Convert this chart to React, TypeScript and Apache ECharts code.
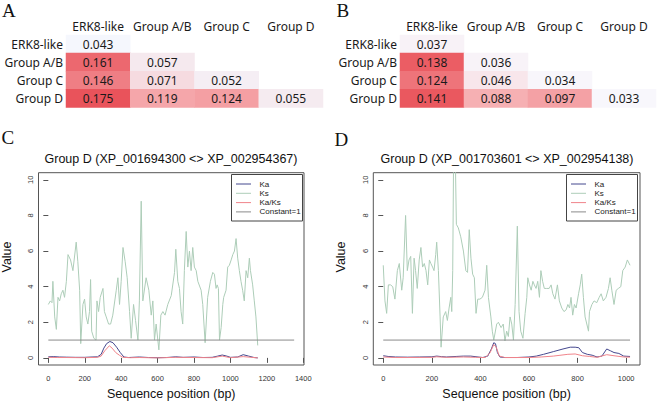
import React, { useEffect, useRef } from "react";
import * as echarts from "echarts";

// ---------- data ----------
const groups = ["ERK8-like", "Group A/B", "Group C", "Group D"];
const tableA = [
  [0.043],
  [0.161, 0.057],
  [0.146, 0.071, 0.052],
  [0.175, 0.119, 0.124, 0.055],
];
const tableB = [
  [0.037],
  [0.138, 0.036],
  [0.124, 0.046, 0.034],
  [0.141, 0.088, 0.097, 0.033],
];

const titleC = "Group D (XP_001694300 <> XP_002954367)";
const titleD = "Group D (XP_001703601 <> XP_002954138)";
const xTicksC = [0, 200, 400, 600, 800, 1000, 1200, 1400];
const xTicksD = [0, 200, 400, 600, 800, 1000];
const yTicks = [0, 2, 4, 6, 8, 10];
const legendNames = ["Ka", "Ks", "Ka/Ks", "Constant=1"];

const ksC = [
  [0, 3.0], [11, 3.2], [20, 3.1], [25, 4.3], [35, 2.3], [44, 1.6], [53, 3.4], [62, 3.2], [71, 3.6],
  [80, 3.8], [89, 3.4], [99, 4.3], [108, 5.8], [122, 5.5], [135, 4.9], [153, 6.5], [162, 5.4],
  [172, 3.8], [178, 0.8], [190, 3.0], [199, 3.3], [208, 2.3], [217, 1.9], [226, 2.6], [232, 4.4],
  [238, 1.5], [250, 1.1], [262, 1.0], [267, 3.2], [276, 2.6], [285, 3.4], [300, 3.9], [308, 2.6],
  [318, 2.3], [331, 1.9], [342, 1.9], [354, 2.4], [373, 3.8], [382, 4.5], [391, 3.0], [400, 4.3],
  [410, 6.2], [422, 5.4], [433, 4.5], [446, 2.6], [455, 1.1], [468, 3.0], [479, 2.1], [492, 1.0],
  [500, 3.2], [510, 8.8], [519, 3.2], [537, 4.5], [552, 3.8], [565, 2.4], [574, 3.2], [583, 1.0],
  [592, 1.9], [607, 0.45], [618, 2.4], [629, 2.6], [641, 2.4], [656, 3.0], [675, 3.5], [693, 4.8],
  [700, 6.1], [711, 4.3], [720, 3.9], [729, 2.6], [738, 1.9], [747, 4.9], [757, 7.1], [766, 5.1],
  [775, 6.0], [784, 4.9], [793, 6.2], [802, 5.1], [812, 4.9], [821, 4.3], [839, 3.8], [848, 3.0],
  [861, 0.85], [875, 3.4], [890, 4.3], [903, 4.8], [912, 4.7], [921, 3.9], [927, 4.1], [934, 3.9],
  [940, 1.0], [949, 1.7], [958, 3.0], [963, 3.4], [976, 3.8], [985, 5.1], [994, 5.2], [1004, 5.5],
  [1013, 5.8], [1022, 6.0], [1031, 6.7], [1040, 5.6], [1049, 4.9], [1058, 4.3], [1067, 3.8],
  [1076, 3.2], [1086, 4.9], [1095, 4.5], [1104, 5.6], [1110, 4.9], [1122, 4.1], [1131, 3.2],
  [1140, 2.3], [1150, 0.7],
];
const kaC = [
  [0, 0.06], [30, 0.07], [60, 0.05], [100, 0.04], [150, 0.03], [200, 0.03], [240, 0.05], [270, 0.06],
  [290, 0.2], [305, 0.55], [320, 0.8], [338, 0.92], [355, 0.85], [375, 0.6], [395, 0.3], [415, 0.05],
  [440, 0.02], [500, 0.05], [550, 0.02], [600, 0.01], [650, 0.02], [700, 0.06], [740, 0.03],
  [800, 0.05], [850, 0.02], [900, 0.03], [930, 0.1], [955, 0.16], [980, 0.1], [1000, 0.03],
  [1040, 0.05], [1070, 0.18], [1100, 0.1], [1130, 0.02], [1150, 0.0],
];
const kaksC = [
  [0, 0.03], [50, 0.02], [100, 0.02], [200, 0.01], [270, 0.03], [290, 0.1], [310, 0.4], [335, 0.68],
  [350, 0.55], [370, 0.3], [390, 0.15], [410, 0.03], [450, 0.01], [500, 0.02], [600, 0.0],
  [700, 0.03], [800, 0.02], [900, 0.01], [955, 0.1], [1000, 0.01], [1070, 0.07], [1150, 0.0],
];
const constC = [[0, 1], [1350, 1]];

const ksD = [
  [0, 5.2], [7, 3.2], [14, 2.5], [21, 4.1], [30, 4.1], [39, 4.0], [48, 3.3], [58, 4.9], [66, 5.3],
  [76, 3.8], [82, 4.5], [92, 8.0], [99, 4.9], [106, 5.5], [113, 5.7], [120, 2.5], [127, 5.6],
  [133, 4.9], [140, 3.9], [148, 5.5], [155, 6.2], [162, 5.1], [169, 5.3], [176, 4.9], [183, 4.1],
  [190, 5.5], [196, 5.3], [203, 5.1], [209, 4.9], [216, 5.8], [220, 6.5], [227, 4.9], [234, 2.3],
  [238, 0.6], [247, 2.3], [257, 2.6], [264, 2.1], [271, 2.8], [278, 3.4], [282, 2.6], [286, 4.9],
  [291, 14], [297, 11], [301, 7.5], [309, 7.3], [319, 6.8], [330, 6.0], [340, 4.9], [347, 4.8],
  [354, 7.2], [361, 5.6], [368, 4.7], [375, 4.5], [382, 2.5], [389, 3.3], [398, 3.3], [408, 3.4],
  [419, 3.8], [426, 5.2], [433, 3.4], [443, 2.3], [449, 1.5], [455, 1.0], [467, 1.9], [474, 2.0],
  [485, 1.7], [494, 1.9], [501, 0.95], [508, 1.5], [515, 1.2], [522, 2.3], [529, 1.9], [536, 1.0],
  [543, 3.0], [552, 7.4], [559, 2.6], [566, 1.5], [575, 1.1], [584, 2.5], [591, 3.4], [595, 4.5],
  [602, 4.1], [609, 3.8], [616, 4.3], [622, 4.1], [629, 3.9], [636, 4.3], [643, 3.4], [649, 4.9],
  [656, 4.3], [663, 3.9], [673, 3.9], [683, 3.9], [691, 4.1], [698, 3.6], [707, 3.3], [717, 4.1],
  [725, 3.2], [735, 2.8], [744, 2.6], [753, 2.7], [760, 3.0], [767, 2.8], [773, 3.4], [780, 2.4],
  [787, 3.0], [794, 2.8], [804, 3.6], [811, 4.1], [817, 4.7], [824, 3.4], [831, 2.3], [845, 1.5],
  [849, 2.6], [859, 3.0], [868, 3.2], [879, 3.1], [889, 3.4], [897, 3.6], [906, 3.2], [917, 3.4],
  [927, 3.9], [934, 4.5], [941, 3.8], [950, 3.0], [959, 3.8], [968, 3.9], [978, 4.0], [986, 4.9],
  [996, 5.1], [1005, 5.5], [1016, 5.2],
];
const kaD = [
  [0, 0.12], [20, 0.08], [50, 0.05], [100, 0.04], [150, 0.05], [200, 0.06], [220, 0.1], [240, 0.07],
  [260, 0.05], [300, 0.08], [330, 0.1], [360, 0.1], [390, 0.05], [410, 0.02], [430, 0.1], [445, 0.5],
  [455, 0.85], [462, 0.8], [470, 0.3], [480, 0.05], [500, 0.02], [550, 0.02], [600, 0.05],
  [630, 0.1], [660, 0.2], [700, 0.35], [740, 0.5], [770, 0.6], [790, 0.6], [805, 0.57], [820, 0.3],
  [840, 0.2], [860, 0.15], [880, 0.05], [900, 0.1], [920, 0.5], [935, 0.4], [950, 0.3], [970, 0.25],
  [990, 0.1], [1016, 0.08],
];
const kaksD = [
  [0, 0.05], [50, 0.02], [100, 0.02], [200, 0.03], [220, 0.06], [260, 0.03], [330, 0.05],
  [380, 0.03], [420, 0.02], [440, 0.3], [455, 0.75], [465, 0.6], [478, 0.1], [500, 0.02],
  [600, 0.02], [650, 0.05], [700, 0.1], [760, 0.2], [790, 0.22], [820, 0.12], [850, 0.08],
  [880, 0.03], [920, 0.18], [950, 0.12], [990, 0.05], [1016, 0.04],
];
const constD = [[0, 1], [1016, 1]];

// ---------- styles ----------
const SANS = "Liberation Sans";
const TABLE_FONT = "Noto Sans";
const SERIF = "Liberation Serif";
const COL_KA = "#45488e";
const COL_KS = "#adcdb8";
const COL_KAKS = "#f0848b";
const COL_CONST = "#8a8a8a";
const seriesColors = [COL_KA, COL_KS, COL_KAKS, COL_CONST];

function heatData(rows: number[][]) {
  const out: number[][] = [];
  rows.forEach((row, i) => row.forEach((v, j) => out.push([j, i, v])));
  return out;
}
function flat(rows: number[][]) {
  return rows.reduce((a, r) => a.concat(r), [] as number[]);
}

function heatAxes(gridIndex: number) {
  const x = {
    type: "category",
    gridIndex,
    data: groups,
    position: "top",
    axisLine: { show: false },
    axisTick: { show: false },
    splitLine: { show: false },
    axisLabel: { fontFamily: TABLE_FONT, fontSize: 12, color: "#1a1a1a", margin: 3, interval: 0 },
  };
  const y = {
    type: "category",
    gridIndex,
    data: groups,
    inverse: true,
    axisLine: { show: false },
    axisTick: { show: false },
    splitLine: { show: false },
    axisLabel: { fontFamily: TABLE_FONT, fontSize: 12, color: "#1a1a1a", margin: 3, interval: 0 },
  };
  return { x, y };
}

function lineAxes(gridIndex: number, min: number, max: number, ticks: number[], yMargin: number) {
  const x = {
    type: "value",
    gridIndex,
    min,
    max,
    axisLine: { show: false },
    axisTick: { show: true, customValues: ticks, length: 5, lineStyle: { color: "#555", width: 1 } },
    axisLabel: {
      customValues: ticks,
      fontFamily: SANS,
      fontSize: 7.5,
      color: "#333",
      margin: 9,
      formatter: (v: number) => String(v),
    },
    splitLine: { show: false },
    name: "Sequence position (bp)",
    nameLocation: "middle",
    nameGap: 22,
    nameTextStyle: { fontFamily: SANS, fontSize: 12.5, color: "#111" },
  };
  const y = {
    type: "value",
    gridIndex,
    min: -0.4,
    max: 10.4,
    axisLine: { show: false },
    axisTick: { show: true, customValues: yTicks, length: 5, lineStyle: { color: "#555", width: 1 } },
    axisLabel: {
      customValues: yTicks,
      rotate: 90,
      fontFamily: SANS,
      fontSize: 7.5,
      color: "#333",
      margin: yMargin,
      formatter: (v: number) => String(v),
    },
    splitLine: { show: false },
  };
  return { x, y };
}

function lineSeries(idx: number, ka: number[][], ks: number[][], kaks: number[][], cst: number[][]) {
  const mk = (name: string, data: number[][], color: string) => ({
    type: "line",
    name,
    xAxisIndex: idx,
    yAxisIndex: idx,
    data,
    symbol: "none",
    showSymbol: false,
    clip: true,
    lineStyle: { color, width: 1 },
    itemStyle: { color },
    emphasis: { disabled: true },
    z: 3,
  });
  return [
    mk("Ka", ka, COL_KA),
    mk("Ks", ks, COL_KS),
    mk("Ka/Ks", kaks, COL_KAKS),
    mk("Constant=1", cst, COL_CONST),
  ];
}

function legendGraphic(x: number, y: number) {
  const els: any[] = [
    {
      type: "rect",
      shape: { x: x + 0.5, y: y + 0.5, width: 71, height: 46.5 },
      style: { fill: "#fff", stroke: "#444", lineWidth: 1 },
      z: 10,
    },
  ];
  legendNames.forEach((n, i) => {
    const cy = y + 10 + i * 9.3;
    els.push({
      type: "line",
      shape: { x1: x + 5, y1: cy, x2: x + 20, y2: cy },
      style: { stroke: seriesColors[i], lineWidth: 1 },
      z: 11,
    });
    els.push({
      type: "text",
      x: x + 28.5,
      y: cy,
      style: { text: n, fontFamily: SANS, fontSize: 8, fill: "#222", align: "left", verticalAlign: "middle" },
      z: 11,
    });
  });
  return els;
}

export default function App() {
  const ref = useRef<HTMLDivElement>(null);
  useEffect(() => {
    document.body.style.margin = "0";
    if (!ref.current) return;
    const chart = echarts.init(ref.current, undefined, { renderer: "svg" });

    const hA = heatAxes(0);
    const hB = heatAxes(1);
    const lC = lineAxes(2, -54, 1404, xTicksC, 4);
    const lD = lineAxes(3, -41, 1057, xTicksD, 4);

    const fA = flat(tableA);
    const fB = flat(tableB);

    const heatSeries = (idx: number, rows: number[][]) => ({
      type: "heatmap",
      xAxisIndex: idx,
      yAxisIndex: idx,
      data: heatData(rows),
      itemStyle: { borderWidth: 0 },
      emphasis: { disabled: true },
      label: {
        show: true,
        fontFamily: TABLE_FONT,
        fontSize: 12,
        color: "#1a1a1a",
        formatter: (p: any) => Number(p.value[2]).toFixed(3),
      },
    });

    const text = (t: string, x: number, y: number, size: number, family: string, align = "center", extra: any = {}) => ({
      type: "text",
      x,
      y,
      style: { text: t, fontFamily: family, fontSize: size, fill: "#111", align, verticalAlign: "middle" },
      z: 5,
      ...extra,
    });

    chart.setOption({
      animation: false,
      backgroundColor: "#fff",
      grid: [
        { left: 66, top: 35, width: 257, height: 72.4 },
        { left: 400, top: 35, width: 256, height: 72.4 },
        { left: 38.5, top: 172.7, width: 265.5, height: 192.3, show: true, borderColor: "#555", borderWidth: 1, backgroundColor: "transparent" },
        { left: 373.3, top: 172.7, width: 266.7, height: 192.3, show: true, borderColor: "#555", borderWidth: 1, backgroundColor: "transparent" },
      ],
      xAxis: [hA.x, hB.x, lC.x, lD.x],
      yAxis: [hA.y, hB.y, lC.y, lD.y],
      visualMap: [
        { show: false, seriesIndex: 0, dimension: 2, min: Math.min(...fA), max: Math.max(...fA), inRange: { color: ["#f5f7fd", "#f7b5b8", "#e9535b"] } },
        { show: false, seriesIndex: 1, dimension: 2, min: Math.min(...fB), max: Math.max(...fB), inRange: { color: ["#f8f7fc", "#f6b2b5", "#ea585f"] } },
      ],
      series: [
        heatSeries(0, tableA),
        heatSeries(1, tableB),
        ...lineSeries(2, kaC, ksC, kaksC, constC),
        ...lineSeries(3, kaD, ksD, kaksD, constD),
      ],
      graphic: [
        text("A", 2, 10.5, 19, SERIF, "left"),
        text("B", 336.5, 10.5, 19, SERIF, "left"),
        text("C", 1.5, 137.5, 19, SERIF, "left"),
        text("D", 334.5, 139.5, 19, SERIF, "left"),
        text(titleC, 171, 159, 12.5, SANS),
        text(titleD, 507, 159, 12.5, SANS),
        text("Value", 6.5, 257, 12.5, SANS, "center", { rotation: Math.PI / 2 }),
        text("Value", 340.5, 257, 12.5, SANS, "center", { rotation: Math.PI / 2 }),
        ...legendGraphic(231, 174),
        ...legendGraphic(566, 174),
      ],
    });
    return () => chart.dispose();
  }, []);
  return <div ref={ref} style={{ width: 658, height: 405 }} />;
}
